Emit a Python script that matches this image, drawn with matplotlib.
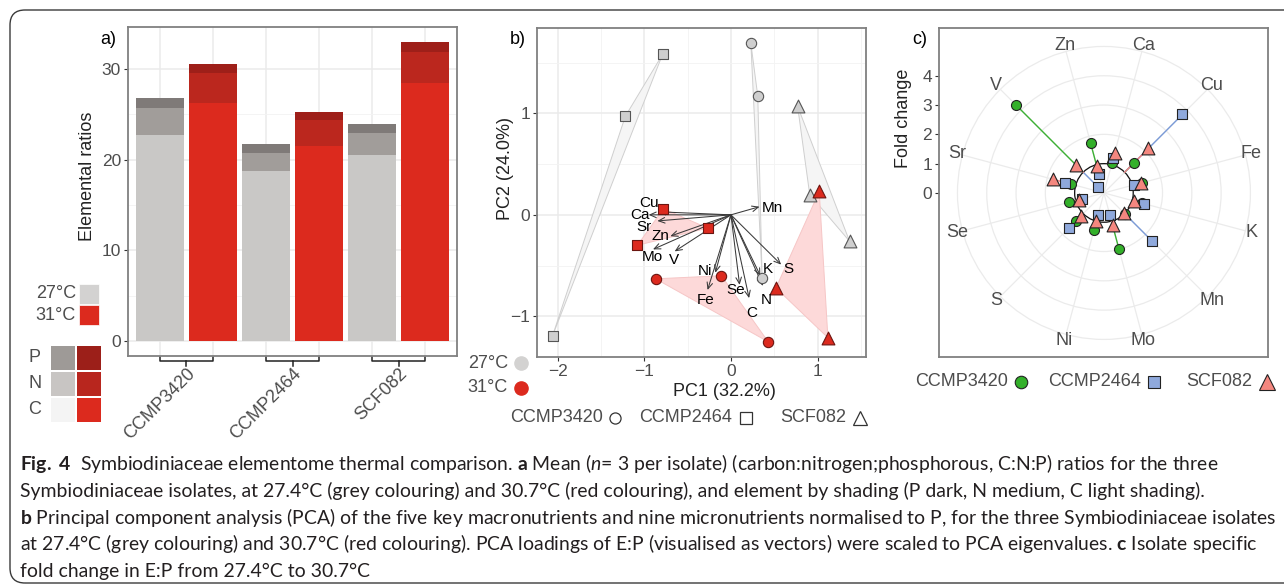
import numpy as np
import matplotlib
matplotlib.use('Agg')
import matplotlib.pyplot as plt
from matplotlib.patches import Rectangle, Polygon, FancyBboxPatch, Circle
from matplotlib.lines import Line2D
from matplotlib.transforms import blended_transform_factory

plt.rcParams['font.family'] = ['Liberation Sans', 'DejaVu Sans']
plt.rcParams['mathtext.fontset'] = 'custom'
plt.rcParams['mathtext.rm'] = 'Lato'
plt.rcParams['mathtext.bf'] = 'Lato:bold'
plt.rcParams['mathtext.it'] = 'Lato:italic'

# ---------------- data ----------------
isolates = ['CCMP3420', 'CCMP2464', 'SCF082']
temps = ['27°C', '31°C']

# a) cumulative tops of the stacked C, N, P segments
c_27 = [22.7, 18.7, 20.5]
n_27 = [25.7, 20.7, 22.9]
p_27 = [26.8, 21.7, 23.9]
c_31 = [26.2, 21.5, 28.4]
n_31 = [29.5, 24.3, 31.9]
p_31 = [30.5, 25.2, 32.9]

# b) PCA scores, three replicates per isolate
pc1_27 = [[0.23, 0.31, 0.36], [-0.79, -1.22, -2.06], [0.77, 0.91, 1.37]]
pc2_27 = [[1.69, 1.17, -0.62], [1.58, 0.97, -1.19], [1.07, 0.20, -0.26]]
pc1_31 = [[-0.87, -0.11, 0.43], [-0.78, -0.27, -1.08], [1.02, 0.52, 1.12]]
pc2_31 = [[-0.63, -0.60, -1.25], [0.06, -0.13, -0.30], [0.23, -0.72, -1.21]]

load_names = ['Mn', 'Cu', 'Ca', 'Sr', 'Zn', 'Mo', 'V', 'Ni', 'Fe', 'Se', 'C', 'N', 'K', 'S']
load_x = [0.33, -0.84, -0.95, -0.85, -0.70, -0.90, -0.65, -0.18, -0.27, 0.10, 0.21, 0.37, 0.34, 0.58]
load_y = [0.08, 0.03, 0.00, -0.06, -0.21, -0.34, -0.36, -0.57, -0.74, -0.69, -0.82, -0.70, -0.60, -0.49]
label_x = [0.48, -0.95, -1.05, -1.00, -0.81, -0.91, -0.66, -0.30, -0.29, 0.05, 0.24, 0.41, 0.43, 0.66]
label_y = [0.07, 0.12, 0.00, -0.12, -0.21, -0.42, -0.44, -0.55, -0.84, -0.74, -0.97, -0.84, -0.53, -0.53]

# c) fold change of E:P, elements clockwise from the top
elements = ['Ca', 'Cu', 'Fe', 'K', 'Mn', 'Mo', 'Ni', 'S', 'Se', 'Sr', 'V', 'Zn']
fc_3420 = [1.06, 1.43, 1.33, 1.35, 1.03, 1.97, 1.31, 1.34, 1.25, 1.17, 4.24, 1.75]
fc_2464 = [1.24, 3.79, 1.07, 1.42, 2.32, 0.79, 0.79, 1.68, 0.79, 1.36, 0.29, 0.66]
fc_scf082 = [1.40, 2.15, 1.32, 1.06, 0.98, 1.13, 0.99, 1.12, 0.87, 1.81, 1.35, 0.95]

W, H = 1284, 588


def fx(x):
    return x / W


def fy(y):
    return 1 - y / H


fig = plt.figure(figsize=(W / 100, H / 100), dpi=100)
fig.patch.set_facecolor('white')

# outer rounded frame (inches)
fig.add_artist(FancyBboxPatch((0.10, 0.05), 13.2, 5.73,
                              boxstyle='round,pad=0,rounding_size=0.15',
                              transform=fig.dpi_scale_trans, fill=False,
                              ec='#3a3a3a', lw=1.0))

TICK = '#4d4d4d'
GRID = '#ebebeb'
BORDER = '#808080'


def style_axes(ax):
    for s in ax.spines.values():
        s.set_color(BORDER)
        s.set_linewidth(1.3)
    ax.tick_params(colors='#333333', labelcolor=TICK, labelsize=12.5,
                   length=3, width=0.8, pad=2)
    ax.tick_params(which='minor', length=0)
    ax.set_axisbelow(True)


# ---------------- a) ----------------
ax_a = fig.add_axes([fx(128), fy(356), 329 / W, 329 / H])
style_axes(ax_a)
x27 = np.arange(3) * 2 + 1
x31 = x27 + 1
g_cols = ['#c9c8c6', '#a19d9a', '#7f7a78']
r_cols = ['#dc2a1e', '#bb271e', '#9e1f19']
c27, n27, p27 = map(np.array, (c_27, n_27, p_27))
c31, n31, p31 = map(np.array, (c_31, n_31, p_31))
ax_a.bar(x27, c27, width=0.9, color=g_cols[0])
ax_a.bar(x27, n27 - c27, bottom=c27, width=0.9, color=g_cols[1])
ax_a.bar(x27, p27 - n27, bottom=n27, width=0.9, color=g_cols[2])
ax_a.bar(x31, c31, width=0.9, color=r_cols[0])
ax_a.bar(x31, n31 - c31, bottom=c31, width=0.9, color=r_cols[1])
ax_a.bar(x31, p31 - n31, bottom=n31, width=0.9, color=r_cols[2])
ax_a.set_xlim(0.4, 6.6)
ax_a.set_ylim(-1.65, 34.6)
ax_a.set_yticks([0, 10, 20, 30])
ax_a.set_yticks([5, 15, 25], minor=True)
ax_a.set_xticks(np.concatenate([x27, x31]), minor=True)
ax_a.set_xticks((x27 + x31) / 2)
ax_a.set_xticklabels(isolates, rotation=45, ha='right', va='top',
                     rotation_mode='anchor', fontsize=13)
ax_a.tick_params(axis='x', length=0, pad=6.5)
ax_a.grid(axis='y', which='major', color=GRID, lw=1.1)
ax_a.grid(axis='y', which='minor', color='#f3f3f3', lw=0.6)
ax_a.grid(axis='x', which='minor', color=GRID, lw=1.1)
tr = blended_transform_factory(ax_a.transData, ax_a.transAxes)
for l, r in zip(x27, x31):
    m = (l + r) / 2
    ax_a.plot([l, l, r, r], [-0.004, -0.016, -0.016, -0.004], transform=tr,
              color='#222222', lw=1.1, clip_on=False)
    ax_a.plot([m, m], [-0.016, -0.031], transform=tr, color='#222222',
              lw=1.1, clip_on=False)

fig.text(fx(88), fy(176), 'Elemental ratios', rotation=90, ha='center',
         va='center', fontsize=13, color='#222222')
fig.text(fx(108), fy(39), 'a)', ha='center', va='center', fontsize=13)

# temperature key
for lab, col, yy in [(temps[0], '#d3d2d1', 294), (temps[1], '#dc2a1e', 315)]:
    fig.text(fx(76), fy(yy), lab, ha='right', va='center', fontsize=13,
             color=TICK)
    fig.add_artist(Rectangle((fx(79), fy(yy + 10)), 20 / W, 20 / H,
                             transform=fig.transFigure, fc=col, ec='white',
                             lw=0.5))
# element key
key_grey = ['#9e9a97', '#c8c5c3', '#f4f4f4']
key_red = ['#9c1f19', '#b8261e', '#dc2a1e']
for k, (el, yy) in enumerate(zip(['P', 'N', 'C'], [358, 384, 410])):
    fig.text(fx(35), fy(yy), el, ha='center', va='center', fontsize=13,
             color=TICK)
    fig.add_artist(Rectangle((fx(51), fy(yy + 12)), 24 / W, 24 / H,
                             transform=fig.transFigure, fc=key_grey[k],
                             ec='none'))
    fig.add_artist(Rectangle((fx(77), fy(yy + 12)), 24 / W, 24 / H,
                             transform=fig.transFigure, fc=key_red[k],
                             ec='none'))

# ---------------- b) ----------------
ax_b = fig.add_axes([fx(537), fy(357), 329 / W, 329 / H])
style_axes(ax_b)
ax_b.set_xlim(-2.24, 1.56)
ax_b.set_ylim(-1.40, 1.84)
ax_b.set_xticks([-2, -1, 0, 1])
ax_b.set_xticks([-1.5, -0.5, 0.5, 1.5], minor=True)
ax_b.set_yticks([-1, 0, 1])
ax_b.set_yticks([-0.5, 0.5, 1.5], minor=True)
ax_b.grid(which='major', color=GRID, lw=1.1)
ax_b.grid(which='minor', color='#f3f3f3', lw=0.6)

markers = ['o', 's', '^']
msize = [55, 46, 85]
for g in range(3):
    pts = np.column_stack([pc1_27[g], pc2_27[g]])
    ax_b.add_patch(Polygon(pts, closed=True, fc='#f5f5f5', ec='#cfcfcf',
                           lw=0.7, zorder=1))
for g in range(3):
    pts = np.column_stack([pc1_31[g], pc2_31[g]])
    ax_b.add_patch(Polygon(pts, closed=True, fc='#fdd9d9', ec='#f6c6c6',
                           lw=0.7, zorder=1.5))
for tx, ty in zip(load_x, load_y):
    ax_b.annotate('', xy=(tx, ty), xytext=(0, 0), zorder=2,
                  arrowprops=dict(arrowstyle='->,head_length=0.45,head_width=0.2',
                                  color='#3a3a3a', lw=0.75,
                                  shrinkA=0, shrinkB=0))
for g in range(3):
    ax_b.scatter(pc1_27[g], pc2_27[g], marker=markers[g], s=msize[g],
                 fc='#cfcfcf', ec='#555555', lw=0.8, zorder=4)
    ax_b.scatter(pc1_31[g], pc2_31[g], marker=markers[g], s=msize[g],
                 fc='#dc2a1e', ec='#6b1510', lw=0.8, zorder=4)
for name, lx, ly in zip(load_names, label_x, label_y):
    ax_b.text(lx, ly, name, ha='center', va='center', fontsize=11,
              color='black', zorder=5)

fig.text(fx(724), fy(391), 'PC1 (32.2%)', ha='center', va='center',
         fontsize=13, color='#222222')
fig.text(fx(505), fy(168), 'PC2 (24.0%)', rotation=90, ha='center',
         va='center', fontsize=13, color='#222222')
fig.text(fx(518), fy(39), 'b)', ha='center', va='center', fontsize=13)

for lab, col, yy in [(temps[0], '#d3d2d1', 363), (temps[1], '#dc2a1e', 388)]:
    fig.text(fx(508), fy(yy), lab, ha='right', va='center', fontsize=13,
             color=TICK)
    fig.add_artist(Line2D([fx(521)], [fy(yy)], marker='o', ms=9.5,
                          mfc=col, mec=col, transform=fig.transFigure))

for lab, mk, xt, xm, ms in [(isolates[0], 'o', 557, 615, 8),
                            (isolates[1], 's', 686, 746, 8),
                            (isolates[2], '^', 813, 860, 10)]:
    fig.text(fx(xt), fy(418), lab, ha='center', va='center', fontsize=13,
             color=TICK)
    fig.add_artist(Line2D([fx(xm)], [fy(418)], marker=mk, ms=ms, mfc='white',
                          mec='#333333', mew=0.9, transform=fig.transFigure))

# ---------------- c) ----------------
ax_c = fig.add_axes([fx(939), fy(357), 329 / W, 329 / H])
style_axes(ax_c)
ax_c.set_xlim(-5.63, 5.60)
ax_c.set_ylim(-5.60, 5.63)
ax_c.set_xticks([])
ax_c.set_yticks([0, 1, 2, 3, 4])

theta = np.deg2rad((np.arange(len(elements)) + 0.5) * 360 / len(elements))
for rr in range(1, 6):
    ax_c.add_patch(Circle((0, 0), rr, fill=False, ec=GRID, lw=0.9, zorder=0))
for th in theta:
    ax_c.plot([0, 5 * np.sin(th)], [0, 5 * np.cos(th)], color=GRID, lw=0.9,
              zorder=0)
ax_c.add_patch(Circle((0, 0), 1, fill=False, ec='#111111', lw=0.9, zorder=2))
for name, th in zip(elements, theta):
    ax_c.text(5.2 * np.sin(th), 5.2 * np.cos(th), name, ha='center',
              va='center', fontsize=13, color=TICK)

series_c = [(fc_3420, 'o', '#3cb034', '#33b02a', 52),
            (fc_2464, 's', '#7b9bd8', '#8fa9dc', 48),
            (fc_scf082, '^', '#f08080', '#f4877f', 85)]
for vals, mk, lc, fcol, s in series_c:
    v = np.array(vals)
    for th, val in zip(theta, v):
        ax_c.plot([np.sin(th), val * np.sin(th)], [np.cos(th), val * np.cos(th)],
                  color=lc, lw=1.0, zorder=3)
for z, (vals, mk, lc, fcol, s) in enumerate(series_c):
    v = np.array(vals)
    ax_c.scatter(v * np.sin(theta), v * np.cos(theta), marker=mk, s=s,
                 fc=fcol, ec='#222222', lw=0.8, zorder=4 + z)

fig.text(fx(904), fy(118), 'Fold change', rotation=90, ha='center',
         va='center', fontsize=13, color='#222222')
fig.text(fx(920), fy(39), 'c)', ha='center', va='center', fontsize=13)

for lab, mk, col, xt, xm, ms in [(isolates[0], 'o', '#33b02a', 962, 1021, 9),
                                 (isolates[1], 's', '#8fa9dc', 1095, 1154, 8),
                                 (isolates[2], '^', '#f4877f', 1219, 1267, 11)]:
    fig.text(fx(xt), fy(382), lab, ha='center', va='center', fontsize=13,
             color=TICK)
    fig.add_artist(Line2D([fx(xm)], [fy(382)], marker=mk, ms=ms, mfc=col,
                          mec='#222222', mew=0.8, transform=fig.transFigure))

# ---------------- caption ----------------
caption = [
    r'$\mathbf{Fig.\ 4}$  Symbiodiniaceae elementome thermal comparison. $\mathbf{a}$ Mean ($\mathit{n}$= 3 per isolate) (carbon:nitrogen;phosphorous, C:N:P) ratios for the three',
    'Symbiodiniaceae isolates, at 27.4°C (grey colouring) and 30.7°C (red colouring), and element by shading (P dark, N medium, C light shading).',
    r'$\mathbf{b}$ Principal component analysis (PCA) of the five key macronutrients and nine micronutrients normalised to P, for the three Symbiodiniaceae isolates',
    r'at 27.4°C (grey colouring) and 30.7°C (red colouring). PCA loadings of E:P (visualised as vectors) were scaled to PCA eigenvalues. $\mathbf{c}$ Isolate specific',
    'fold change in E:P from 27.4°C to 30.7°C',
]
baselines = [470, 497, 524, 550, 577]
cap_texts = [fig.text(fx(20), fy(b), line, ha='left', va='baseline',
                      fontsize=12, family=['Lato', 'DejaVu Sans'],
                      color='#231f20')
             for line, b in zip(caption, baselines)]
renderer = fig.canvas.get_renderer()
w3 = cap_texts[2].get_window_extent(renderer).width
scale = (1278 - 20) / w3
for t in cap_texts:
    t.set_fontsize(12 * scale)

fig.savefig('out.png', dpi=100)
